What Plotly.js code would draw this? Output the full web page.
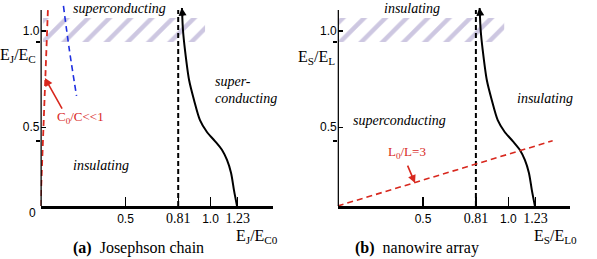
<!DOCTYPE html>
<html>
<head>
<meta charset="utf-8">
<script src="https://cdn.plot.ly/plotly-3.0.1.min.js"></script>
<style>html,body{margin:0;padding:0;background:#fff}#chart{width:597px;height:259px}</style>
</head>
<body>
<div id="chart"></div>
<script>
// ---- data ----
const xTickVals = [0.5, 0.81, 1.0, 1.16];
const xTickText = ['0.5', '0.81', '1.0', '1.23'];
const serifTicks = ['0.81', '1.23'];
const yTickVals = [0.45, 1.0];
const yTickText = ['0.5', '1.0'];
const yMinorVals = [0.371, 0.937];

const criticalX = 0.81;            // dashed vertical line
const dashedTop = 1.12;
const boundaryX = [0.832, 0.838, 0.850, 0.874, 0.903, 0.938, 0.979, 1.026, 1.068, 1.097, 1.121, 1.138, 1.156];
const boundaryY = [1.131, 1.006, 0.891, 0.720, 0.606, 0.491, 0.423, 0.371, 0.320, 0.263, 0.189, 0.091, 0.0];

const bandY = [0.937, 1.074];
const bandAX = [0.015, 0.968];
const bandBX = [0.008, 0.976];

const chargeLineX = [0, 0.044];     // red dashed, panel a
const chargeLineY = [0, 1.131];
const blueLineX = [0.135, 0.170, 0.212];
const blueLineY = [1.143, 0.891, 0.629];
const inductLineX = [0, 1.26];      // red dashed, panel b
const inductLineY = [0, 0.373];

// ---- styling ----
const SERIF = 'Liberation Serif, Times New Roman, serif';
const SANS = 'Liberation Sans, Arial, sans-serif';
const RED = '#d8281e';
const BLUE = '#1f2fe0';
const HATCH = '#cdc7e1';

function bandTrace(bx, xa, ya) {
  return {
    x: [bx[0], bx[1], bx[1], bx[0], bx[0]],
    y: [bandY[0], bandY[0], bandY[1], bandY[1], bandY[0]],
    xaxis: xa, yaxis: ya, mode: 'none', fill: 'toself',
    fillcolor: 'rgba(0,0,0,0)',
    fillpattern: {shape: '/', fgcolor: HATCH, bgcolor: 'rgba(255,255,255,0)', size: 15, solidity: 0.3},
    hoverinfo: 'skip'
  };
}
function dashedV(xa, ya) {
  return {x: [criticalX, criticalX], y: [0, dashedTop], xaxis: xa, yaxis: ya, mode: 'lines',
    line: {color: 'black', width: 2, dash: '5px,3px'}};
}
function boundary(xa, ya) {
  return {x: boundaryX, y: boundaryY, xaxis: xa, yaxis: ya, mode: 'lines',
    line: {color: 'black', width: 2, shape: 'spline', smoothing: 0.8}};
}

const traces = [
  bandTrace(bandAX, 'x', 'y'),
  dashedV('x', 'y'),
  boundary('x', 'y'),
  {x: blueLineX, y: blueLineY, xaxis: 'x', yaxis: 'y', mode: 'lines',
    line: {color: BLUE, width: 1.6, dash: '6px,4px', shape: 'spline'}},
  {x: chargeLineX, y: chargeLineY, xaxis: 'x', yaxis: 'y', mode: 'lines',
    line: {color: RED, width: 1.8, dash: '6px,4px'}},
  bandTrace(bandBX, 'x2', 'y2'),
  dashedV('x2', 'y2'),
  boundary('x2', 'y2'),
  {x: inductLineX, y: inductLineY, xaxis: 'x2', yaxis: 'y2', mode: 'lines',
    line: {color: RED, width: 1.6, dash: '6px,4px'}}
];

const tickText = xTickText.map(t => serifTicks.includes(t)
  ? `<span style="font-family:'Liberation Serif';font-size:14px">${t}</span>` : t);

function xAxis(domain, range, anchor) {
  return {domain, range, anchor, showline: true, linewidth: 2.5, linecolor: 'black',
    showgrid: false, zeroline: false, ticks: 'inside', ticklen: 9, tickwidth: 1.3, tickcolor: 'black',
    tickmode: 'array', tickvals: xTickVals, ticktext: tickText,
    tickfont: {family: SANS, size: 12, color: 'black'}, fixedrange: true};
}
function yAxis(anchor) {
  return {domain: [53 / 259, 257 / 259], range: [0, 204 / 175], anchor,
    showline: false, showgrid: false, zeroline: false,
    ticks: 'inside', ticklen: 5, tickwidth: 1.5, tickcolor: 'black',
    tickmode: 'array', tickvals: yTickVals, ticktext: yTickText,
    minor: {tickmode: 'array', tickvals: yMinorVals, ticks: 'outside', ticklen: 4, tickwidth: 1.5, tickcolor: 'black', showgrid: false},
    tickfont: {family: SANS, size: 12, color: 'black'}, fixedrange: true};
}

const it = (txt, x, y, xr, yr, extra) => Object.assign({
  text: txt, x, y, xref: xr, yref: yr, showarrow: false, xanchor: 'center', yanchor: 'middle',
  font: {family: SERIF, size: 14, color: 'black', style: 'italic'}}, extra || {});
const lab = (txt, x, y, extra) => Object.assign({
  text: txt, x, y, xref: 'paper', yref: 'paper', showarrow: false, xanchor: 'center', yanchor: 'middle',
  font: {family: SERIF, size: 16, color: 'black'}}, extra || {});

const annotations = [
  // panel a
  it('superconducting', 0.462, 1.131, 'x', 'y'),
  it('super-', 1.015, 0.709, 'x', 'y', {xanchor: 'left'}),
  it('conducting', 1.015, 0.617, 'x', 'y', {xanchor: 'left'}),
  it('insulating', 0.356, 0.234, 'x', 'y'),
  {text: 'C<sub>0</sub>/C&lt;&lt;1', x: 0.085, y: 0.503, xref: 'x', yref: 'y', xanchor: 'left', yanchor: 'middle', showarrow: false,
    font: {family: SERIF, size: 13, color: RED}},
  {text: '', x: 0.026, y: 0.731, xref: 'x', yref: 'y', showarrow: true, ax: 18, ay: 32,
    arrowcolor: RED, arrowwidth: 1.6, arrowhead: 2, arrowsize: 1},
  {text: '', x: 0.831, y: 1.133, xref: 'x', yref: 'y', showarrow: true, ax: 1, ay: 10,
    arrowcolor: 'black', arrowwidth: 1.6, arrowhead: 2, arrowsize: 1},
  lab('0', 32 / 597, 46 / 259, {font: {family: SANS, size: 12, color: 'black'}}),
  lab('E<sub>J</sub>/E<sub>C</sub>', 18 / 597, 204 / 259),
  lab('E<sub>J</sub>/E<sub>C0</sub>', 257 / 597, 23 / 259),
  lab('<b>(a)</b>  Josephson chain', 138 / 597, 11 / 259),
  // panel b
  it('insulating', 0.436, 1.131, 'x2', 'y2'),
  it('insulating', 1.215, 0.617, 'x2', 'y2'),
  it('superconducting', 0.365, 0.491, 'x2', 'y2'),
  {text: 'L<sub>0</sub>/L=3', x: 0.406, y: 0.303, xref: 'x2', yref: 'y2', xanchor: 'center', yanchor: 'middle', showarrow: false,
    font: {family: SERIF, size: 13, color: RED}},
  {text: '', x: 0.453, y: 0.131, xref: 'x2', yref: 'y2', showarrow: true, ax: -8, ay: -19,
    arrowcolor: RED, arrowwidth: 1.6, arrowhead: 2, arrowsize: 1},
  {text: '', x: 0.831, y: 1.133, xref: 'x2', yref: 'y2', showarrow: true, ax: 1, ay: 10,
    arrowcolor: 'black', arrowwidth: 1.6, arrowhead: 2, arrowsize: 1},
  lab('E<sub>S</sub>/E<sub>L</sub>', 316 / 597, 202 / 259),
  lab('E<sub>S</sub>/E<sub>L0</sub>', 555 / 597, 23 / 259),
  lab('<b>(b)</b>  nanowire array', 417 / 597, 11 / 259)
];

const shapes = [
  {type: 'line', xref: 'x', yref: 'y', x0: 0, x1: 0, y0: 0, y1: dashedTop, line: {color: 'black', width: 2.5}},
  {type: 'line', xref: 'x2', yref: 'y2', x0: 0, x1: 0, y0: 0, y1: dashedTop, line: {color: 'black', width: 2.5}}
];

const layout = {
  width: 597, height: 259, margin: {l: 0, r: 0, t: 0, b: 0},
  paper_bgcolor: 'white', plot_bgcolor: 'white', showlegend: false,
  xaxis: xAxis([40.5 / 597, 273 / 597], [0, 232.5 / 170], 'y'),
  yaxis: yAxis('x'),
  xaxis2: xAxis([337.7 / 597, 570 / 597], [0, 232.3 / 170.6], 'y2'),
  yaxis2: yAxis('x2'),
  annotations, shapes
};

Plotly.newPlot('chart', traces, layout, {displayModeBar: false, staticPlot: true});
</script>
</body>
</html>
